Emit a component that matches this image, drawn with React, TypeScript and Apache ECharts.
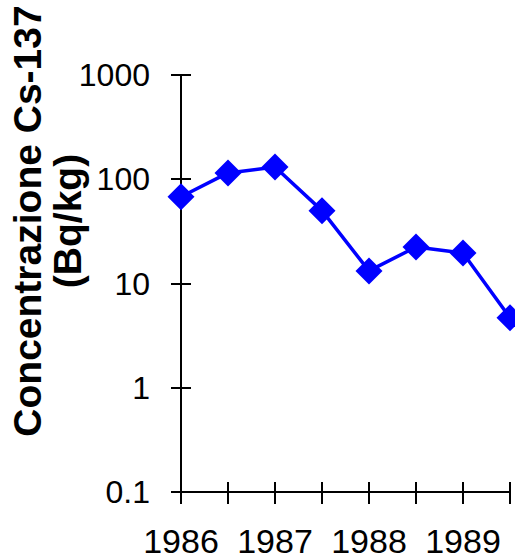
import React, { useEffect, useRef } from "react";
import * as echarts from "echarts";

const categories = ["1986", "1986.5", "1987", "1987.5", "1988", "1988.5", "1989", "1989.5"];
const concentrations = [68, 115, 131, 50, 13.2, 22.4, 19.6, 4.7];
const yTitleLines = ["Concentrazione Cs-137", "(Bq/kg)"];

const FONT = "Arial, 'Liberation Sans', sans-serif";

export default function App() {
  const ref = useRef<HTMLDivElement>(null);
  useEffect(() => {
    if (!ref.current) return;
    const chart = echarts.init(ref.current, undefined, { renderer: "svg" });
    const axisLine = { show: true, lineStyle: { color: "#000", width: 2 } };
    const tickStyle = { color: "#000", width: 2 };
    chart.setOption({
      animation: false,
      backgroundColor: "#fff",
      grid: { left: 181, right: 5, top: 75, bottom: 68, containLabel: false },
      xAxis: [
        {
          type: "category",
          data: categories,
          boundaryGap: false,
          position: "bottom",
          axisLine,
          axisTick: { show: true, inside: false, length: 12, interval: 0, lineStyle: tickStyle },
          axisLabel: {
            interval: 0,
            showMaxLabel: false,
            hideOverlap: false,
            margin: 32,
            fontSize: 34,
            fontFamily: FONT,
            color: "#000",
            formatter: (v: string, i: number) =>
              i % 2 === 1 || String(v).indexOf(".") >= 0 ? "" : String(v),
          },
          splitLine: { show: false },
        },
        {
          type: "category",
          data: categories,
          boundaryGap: false,
          position: "bottom",
          offset: 0,
          axisLine,
          axisTick: { show: true, inside: true, length: 10, interval: 0, lineStyle: tickStyle },
          axisLabel: { show: false },
          splitLine: { show: false },
        },
      ],
      yAxis: [
        {
          type: "log",
          logBase: 10,
          min: 0.1,
          max: 1000,
          position: "left",
          axisLine,
          axisTick: { show: true, inside: false, length: 10, lineStyle: tickStyle },
          axisLabel: {
            margin: 31,
            fontSize: 32,
            fontFamily: FONT,
            color: "#000",
            formatter: (v: number) => String(Number(v.toPrecision(6))),
          },
          splitLine: { show: false },
        },
        {
          type: "log",
          logBase: 10,
          min: 0.1,
          max: 1000,
          position: "left",
          offset: 0,
          axisLine,
          axisTick: { show: true, inside: true, length: 10, lineStyle: tickStyle },
          axisLabel: { show: false },
          splitLine: { show: false },
        },
      ],
      series: [
        {
          type: "line",
          xAxisIndex: 0,
          yAxisIndex: 0,
          data: concentrations,
          clip: false,
          symbol: "diamond",
          symbolSize: 27,
          itemStyle: { color: "#0000ff" },
          lineStyle: { color: "#0000ff", width: 3.5 },
        },
      ],
      graphic: [
        {
          type: "text",
          x: 47,
          y: 221,
          rotation: Math.PI / 2,
          style: {
            text: yTitleLines.join("\n"),
            fontSize: 39,
            fontWeight: "bold",
            fontFamily: FONT,
            fill: "#000",
            align: "center",
            verticalAlign: "middle",
            lineHeight: 40,
          },
        },
      ],
    });
    return () => chart.dispose();
  }, []);
  return (
    <div
      ref={ref}
      style={{ position: "fixed", left: 0, top: 0, width: 515, height: 560 }}
    />
  );
}
